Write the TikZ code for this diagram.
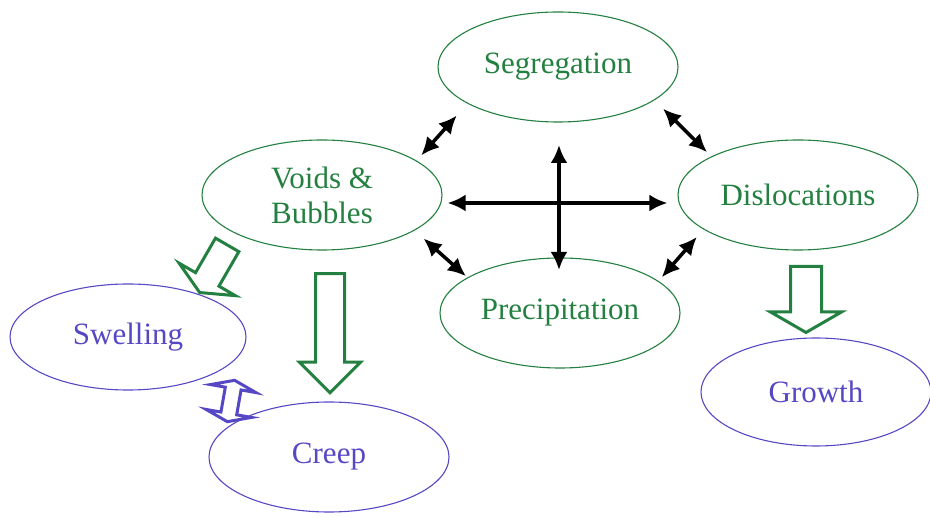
\documentclass[tikz,border=0pt]{standalone}
\usepackage{fontspec}
\setmainfont{Liberation Serif}
\usetikzlibrary{arrows.meta,shapes.arrows,shapes.geometric}
\definecolor{effgreen}{RGB}{36,128,64}
\definecolor{effblue}{RGB}{86,72,196}

\begin{document}
\begin{tikzpicture}[>={Latex[length=18pt,width=17pt]},x=1pt,y=-1pt]
\tikzset{
	cause/.style={ellipse,draw=effgreen,line width=1.1pt,text=effgreen,inner sep=0pt,
		minimum width=240pt,minimum height=110pt,align=center,
		font=\fontsize{31}{35}\selectfont},
	effect/.style={cause,draw=effblue,text=effblue},
	link/.style={<->,line width=3.5pt},
	bigarrow/.style={single arrow,draw=effgreen,line width=3pt,inner xsep=0pt,
		single arrow head indent=0pt}
}
\useasboundingbox (0,0) rectangle (930,518);
\node[cause](seg) at (558,67){Segregation};
\node[cause](vb) at (322,195){Voids \&\\Bubbles};
\node[cause](dis) at (798,195){Dislocations};
\node[cause](pre) at (560,313){Precipitation};
\node[effect,minimum width=236pt,minimum height=106pt](swe) at (128,337){Swelling};
\node[effect](cre) at (329,457){Creep};
\node[effect,minimum width=230pt,minimum height=108pt](gro) at (816,392){Growth};
% interactions
\coordinate(vtop) at (559,145);
\coordinate(vbot) at (559,270);
\draw[link,shorten <=5pt,shorten >=10pt] ([yshift=-8pt]vb.east) -- ([yshift=-8pt]dis.west);
\draw[link] (vtop) -- (vbot);
\draw[link,shorten <=7pt,shorten >=16pt] (vb.20) -- (seg.202);
\draw[link,shorten <=12pt,shorten >=6pt] (seg.341) -- (dis.156);
\draw[link,shorten <=12pt,shorten >=2pt] (vb.339) -- (pre.159);
\draw[link,shorten <=5pt,shorten >=10pt] (pre.18) -- (dis.200);
% effects
\node[bigarrow,rotate=-90,minimum height=119pt,inner ysep=13pt,
	single arrow head extend=16pt,single arrow tip angle=90](acre) at (330,326){};
\node[bigarrow,rotate=-90,minimum height=66pt,inner ysep=14pt,
	single arrow head extend=20pt,single arrow tip angle=120](agro) at (806,295){};
\node[bigarrow,rotate=240,minimum height=55pt,inner ysep=12pt,
	single arrow head extend=19pt,single arrow tip angle=130](aswe) at (215,266){};
\node[double arrow,draw=effblue,fill=white,line width=3pt,inner xsep=0pt,inner ysep=6.5pt,
	rotate=80,minimum height=42pt,
	double arrow head extend=15pt,double arrow tip angle=140,
	double arrow head indent=0pt](aswc) at (231,401){};
\end{tikzpicture}
\end{document}
